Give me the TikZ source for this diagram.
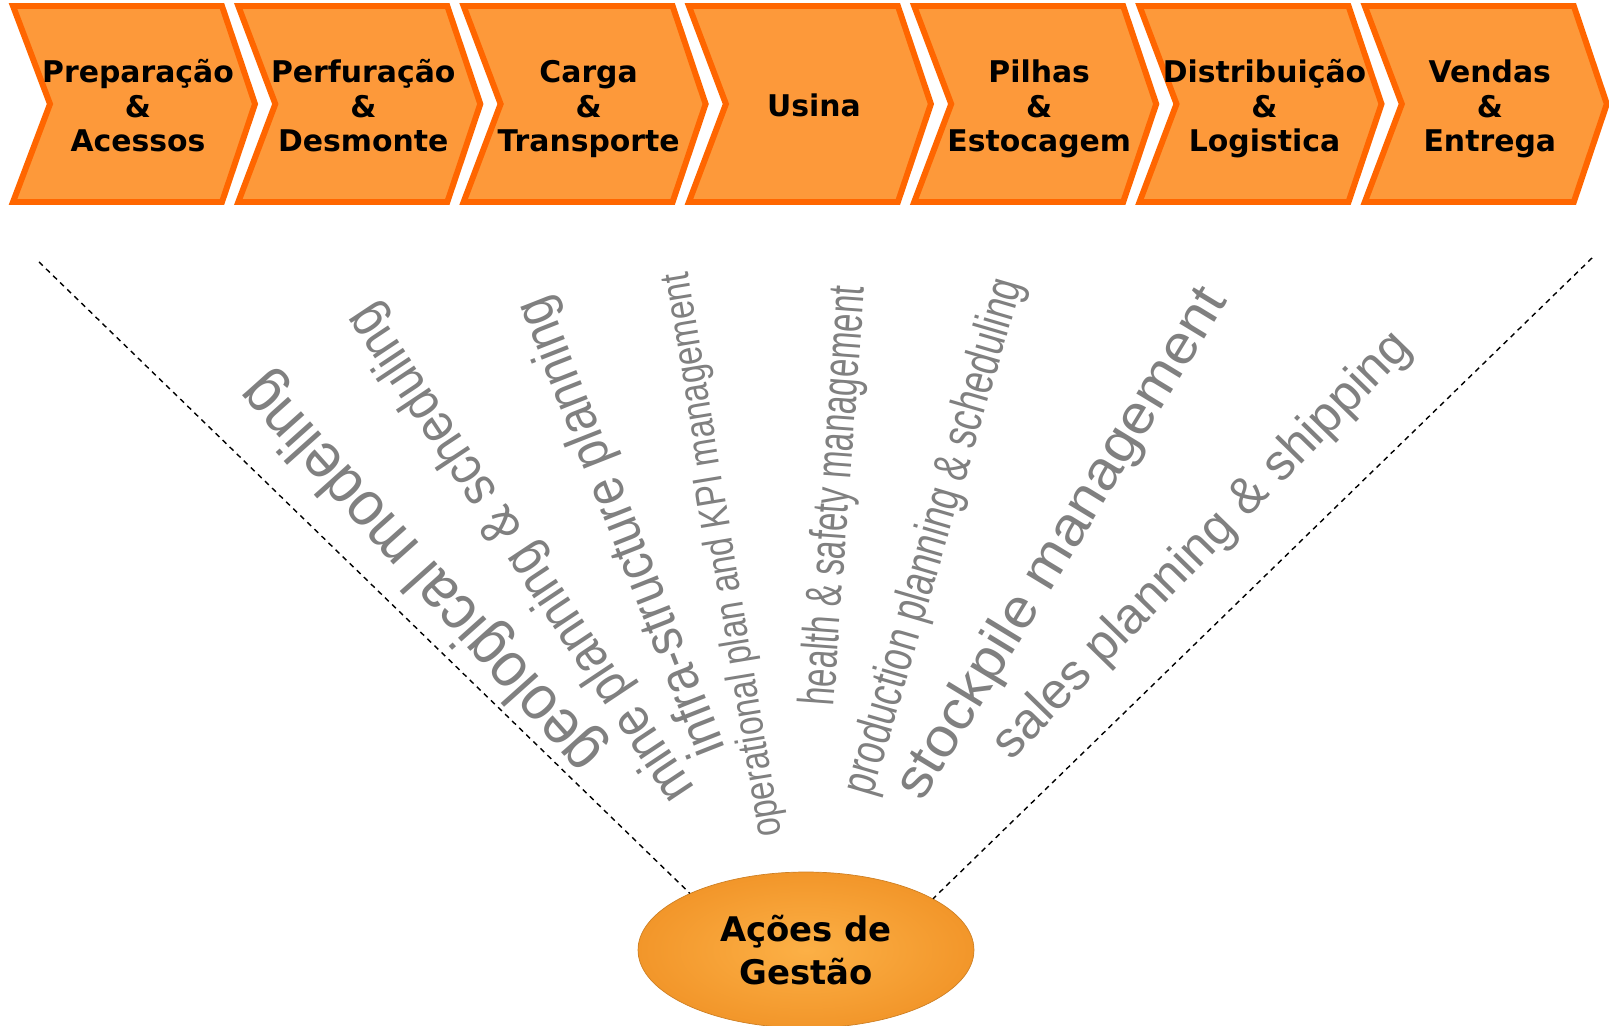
\documentclass[tikz,border=0pt]{standalone}
\usepackage{fontspec}
\usepackage{tikz}
\usetikzlibrary{shapes.geometric, positioning, calc}
\setmainfont{Liberation Sans}
\newfontfamily\stagefont{DejaVu Sans}
\definecolor{cFill}{RGB}{253,153,58}
\definecolor{cEdge}{RGB}{255,102,0}
\definecolor{cLabel}{RGB}{128,128,128}
\definecolor{cGoldIn}{RGB}{252,176,70}
\definecolor{cGoldOut}{RGB}{242,150,42}
\tikzset{
	chev/.style={draw=cEdge, fill=cFill, line width=3.4pt, line join=miter},
	stage/.style={align=center, anchor=base, text=black, font=\stagefont\bfseries\fontsize{17}{19.8}\selectfont},
	act/.style={ellipse, minimum width=6.72cm, minimum height=3.12cm, align=center, draw=cGoldOut!85!black, thin, inner color=cGoldIn, outer color=cGoldOut, font=\stagefont\bfseries\fontsize{19.3}{24}\selectfont},
	lbl/.style={text=cLabel, inner sep=0pt},
	guide/.style={dash pattern=on 3pt off 2.6pt, line width=0.8pt},
}
\begin{document}
\begin{tikzpicture}[x=0.02cm, y=-0.02cm]
	\useasboundingbox (0,0) rectangle (1609,1026);
	% value chain
	\foreach \i/\n/\b in {0/{Preparação\\ \&\\ Acessos}/152, 1/{Perfuração\\ \&\\ Desmonte}/152, 2/{Carga\\ \&\\ Transporte}/152, 3/{Usina}/117, 4/{Pilhas\\ \&\\ Estocagem}/152, 5/{Distribuição\\ \&\\ Logistica}/152, 6/{Vendas\\ \&\\ Entrega}/152} {
		\pgfmathsetmacro{\x}{10+225.3*\i}
		\draw[chev] (\x+3,6) -- (\x+212,6) -- (\x+245,104) -- (\x+212,202) -- (\x+3,202) -- (\x+40,104) -- cycle;
		\node[stage] (st\i) at (\x+128,\b) {\n};
	}
	% management actions
	\node[act] (acoes) at (806,950) {Ações de\\ Gestão};
	\coordinate (gl) at (39,262);
	\coordinate (gr) at (1592,258);
	\draw[guide] (gl) -- (acoes.154);
	\draw[guide] (gr) -- (acoes.22);
	\node[lbl, rotate=131.8, xscale=0.91, font=\fontsize{36.2}{40}\selectfont] (geo) at (423,572) {geological modeling};
	\node[lbl, rotate=123.6, xscale=0.87, font=\fontsize{31.3}{34}\selectfont] (mine) at (522,553) {mine planning \& scheduling};
	\node[lbl, rotate=111.5, xscale=0.87, font=\fontsize{31.3}{34}\selectfont] (infra) at (623,526) {infra-structure planning};
	\node[lbl, rotate=99.4, xscale=0.8, font=\fontsize{23.8}{26}\selectfont] (oper) at (724,555) {operational plan and KPI management};
	\node[lbl, rotate=85.8, xscale=0.65, font=\fontsize{28.9}{31}\selectfont] (hse) at (836,496) {health \& safety management};
	\node[lbl, rotate=73.7, xscale=0.73, font=\fontsize{28.3}{31}\selectfont] (prod) at (935,537) {production planning \& scheduling};
	\node[lbl, rotate=58.7, xscale=1.07, font=\fontsize{31.2}{34}\selectfont] (stock) at (1063,544) {stockpile management};
	\node[lbl, rotate=45.7, font=\fontsize{28.9}{31}\selectfont] (sales) at (1203,546) {sales planning \& shipping};
\end{tikzpicture}
\end{document}
